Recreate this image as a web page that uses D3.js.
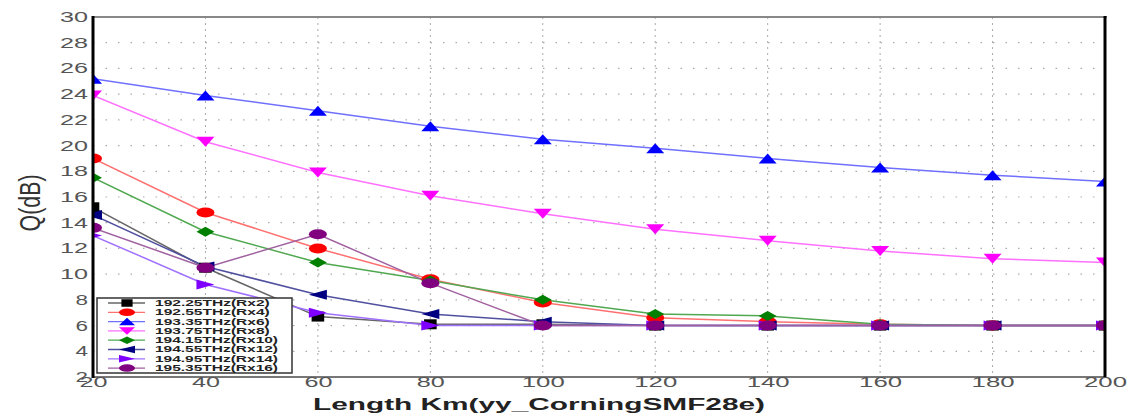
<!DOCTYPE html>
<html>
<head>
<meta charset="utf-8">
<script src="https://cdn.jsdelivr.net/npm/d3@7"></script>
<style>
  body { margin: 0; background: #fff; }
  text { font-family: "Liberation Sans", Arial, sans-serif; }
</style>
</head>
<body>
<div id="chart"></div>
<script>
// lengths in km
var lengths = [20, 40, 60, 80, 100, 120, 140, 160, 180, 200];

var names = ['192.25THz(Rx2)', '192.55THz(Rx4)', '193.35THz(Rx6)', '193.75THz(Rx8)',
             '194.15THz(Rx10)', '194.55THz(Rx12)', '194.95THz(Rx14)', '195.35THz(Rx16)'];

// Q values (dB), one array per channel
var rx2  = [15.2, 10.5, 6.7, 6.1, 6.1, 6.0, 6.0, 6.0, 6.0, 6.0];
var rx4  = [19.0, 14.8, 12.0, 9.6, 7.8, 6.6, 6.3, 6.1, 6.0, 6.0];
var rx6  = [25.2, 23.9, 22.7, 21.5, 20.5, 19.8, 19.0, 18.3, 17.7, 17.2];
var rx8  = [23.9, 20.3, 17.9, 16.1, 14.7, 13.5, 12.6, 11.8, 11.2, 10.9];
var rx10 = [17.5, 13.3, 10.9, 9.5, 8.0, 6.9, 6.75, 6.1, 6.0, 6.0];
var rx12 = [14.6, 10.6, 8.4, 6.9, 6.3, 6.0, 6.0, 6.0, 6.0, 6.0];
var rx14 = [13.0, 9.2, 7.0, 6.0, 6.0, 6.0, 6.0, 6.0, 6.0, 6.0];
var rx16 = [13.6, 10.5, 13.1, 9.3, 6.0, 6.0, 6.0, 6.0, 6.0, 6.0];

var yTicks = [2, 4, 6, 8, 10, 12, 14, 16, 18, 20, 22, 24, 26, 28, 30];
var xTicks = [20, 40, 60, 80, 100, 120, 140, 160, 180, 200];

var allSeries = [rx2, rx4, rx6, rx8, rx10, rx12, rx14, rx16];
var markColors = ['#000000', '#ff0000', '#0000ff', '#ff00ff', '#008000', '#000080', '#8000ff', '#800080'];
var lineColors = ['#666666', '#ff7070', '#7070ff', '#ff70ff', '#50a850', '#5050a0', '#a070ff', '#a060a0'];
var shapes = ['square', 'circle', 'up', 'down', 'diamond', 'left', 'right', 'circle'];

var W = 1135, H = 417;
var margin = { top: 17, left: 93, bottom: 40, right: 30 },
    width = 1105 - margin.left,
    height = 377 - margin.top;

var svg = d3.select('#chart').append('svg')
    .attr('width', W)
    .attr('height', H)
    .append('g')
    .attr('transform', 'translate(' + margin.left + ',' + margin.top + ')');

var x = d3.scaleLinear().domain([20, 200]).range([0, width]);
var y = d3.scaleLinear().domain([2, 30]).range([height, 0]);

function markerPath(shape, w, h) {
    var a = w / 2, b = h / 2;
    if (shape === 'square') return 'M' + (-a * 0.7) + ',' + (-b) + 'h' + (a * 1.4) + 'v' + h + 'h' + (-a * 1.4) + 'Z';
    if (shape === 'circle') return 'M' + (-a) + ',0A' + a + ',' + b + ' 0 1,0 ' + a + ',0A' + a + ',' + b + ' 0 1,0 ' + (-a) + ',0Z';
    if (shape === 'up') return 'M0,' + (-b) + 'L' + a + ',' + b + 'L' + (-a) + ',' + b + 'Z';
    if (shape === 'down') return 'M0,' + b + 'L' + a + ',' + (-b) + 'L' + (-a) + ',' + (-b) + 'Z';
    if (shape === 'diamond') return 'M0,' + (-b) + 'L' + a + ',0L0,' + b + 'L' + (-a) + ',0Z';
    if (shape === 'left') return 'M' + (-a) + ',0L' + a + ',' + (-b) + 'L' + a + ',' + b + 'Z';
    return 'M' + a + ',0L' + (-a) + ',' + (-b) + 'L' + (-a) + ',' + b + 'Z';
}

svg.append('clipPath').attr('id', 'plotclip')
    .append('rect').attr('x', 0).attr('y', -10).attr('width', width).attr('height', height + 10);

// grid
svg.selectAll('.hgrid')
    .data(yTicks.slice(1, -1))
    .enter().append('line')
    .attr('class', 'hgrid')
    .attr('x1', 0).attr('x2', width)
    .attr('y1', d => y(d)).attr('y2', d => y(d))
    .attr('stroke', '#aaa')
    .attr('stroke-width', 1.2)
    .attr('stroke-dasharray', '1.5,11');

svg.selectAll('.vgrid')
    .data(xTicks.slice(1, -1))
    .enter().append('line')
    .attr('class', 'vgrid')
    .attr('y1', 0).attr('y2', height)
    .attr('x1', d => x(d)).attr('x2', d => x(d))
    .attr('stroke', '#aaa')
    .attr('stroke-width', 1)
    .attr('stroke-dasharray', '2,4');

// frame
svg.append('line').attr('x1', 0).attr('x2', width + 2).attr('y1', 0).attr('y2', 0)
    .attr('stroke', '#888').attr('stroke-width', 2);
svg.append('line').attr('x1', 0).attr('x2', width).attr('y1', height).attr('y2', height)
    .attr('stroke', '#777').attr('stroke-width', 2);

// lines + markers
var line = d3.line().x((d, i) => x(lengths[i])).y(d => y(d));
var plot = svg.append('g').attr('clip-path', 'url(#plotclip)');

allSeries.forEach(function (s, k) {
    plot.append('path')
        .datum(s)
        .attr('fill', 'none')
        .attr('stroke', lineColors[k])
        .attr('stroke-width', 1.5)
        .attr('d', line);
});
allSeries.forEach(function (s, k) {
    plot.selectAll('.m' + k)
        .data(s)
        .enter().append('path')
        .attr('class', 'm' + k)
        .attr('transform', (d, i) => 'translate(' + x(lengths[i]) + ',' + y(d) + ')')
        .attr('d', markerPath(shapes[k], 18, 10))
        .attr('fill', markColors[k]);
});

svg.append('line').attr('x1', 0).attr('x2', 0).attr('y1', -1).attr('y2', height + 1)
    .attr('stroke', '#000').attr('stroke-width', 3);
svg.append('line').attr('x1', width).attr('x2', width).attr('y1', -1).attr('y2', height + 1)
    .attr('stroke', '#000').attr('stroke-width', 3);

// axes (labels only)
var yAxis = d3.axisLeft(y).tickValues(yTicks).tickSize(0).tickPadding(5);
var gy = svg.append('g').call(yAxis);
gy.select('.domain').remove();
gy.selectAll('text')
    .attr('fill', '#555')
    .attr('font-size', 14)
    .attr('textLength', d => String(d).length * 15.5 - 3)
    .attr('lengthAdjust', 'spacingAndGlyphs');

var xAxis = d3.axisBottom(x).tickValues(xTicks).tickSize(0).tickPadding(0);
var gx = svg.append('g').attr('transform', 'translate(0,' + height + ')').call(xAxis);
gx.select('.domain').remove();
gx.selectAll('text')
    .attr('fill', '#555')
    .attr('font-size', 14)
    .attr('textLength', d => String(d).length * 15 - 2)
    .attr('lengthAdjust', 'spacingAndGlyphs');

// titles
svg.append('text')
    .attr('x', 539 - margin.left)
    .attr('y', 410 - margin.top)
    .attr('text-anchor', 'middle')
    .attr('font-size', 16)
    .attr('font-weight', 'bold')
    .attr('fill', '#222')
    .attr('textLength', 452)
    .attr('lengthAdjust', 'spacingAndGlyphs')
    .text('Length Km(yy_CorningSMF28e)');

svg.append('text')
    .attr('transform', 'translate(' + (40 - margin.left) + ',' + (203 - margin.top) + ') scale(1.9,1) rotate(-90)')
    .attr('text-anchor', 'middle')
    .attr('font-size', 16)
    .attr('fill', '#333')
    .attr('textLength', 57)
    .attr('lengthAdjust', 'spacingAndGlyphs')
    .text('Q(dB)');

// legend
var lg = svg.append('g').attr('transform', 'translate(' + (97 - margin.left) + ',' + (298 - margin.top) + ')');
lg.append('rect')
    .attr('width', 195).attr('height', 75)
    .attr('fill', '#fff')
    .attr('stroke', '#333')
    .attr('stroke-width', 1.5);

var rows = lg.selectAll('.row')
    .data(names)
    .enter().append('g')
    .attr('class', 'row')
    .attr('transform', (d, i) => 'translate(0,' + (5 + i * 9.3) + ')');

rows.append('line')
    .attr('x1', 11).attr('x2', 48)
    .attr('stroke', (d, i) => lineColors[i])
    .attr('stroke-width', 1.3);
rows.append('path')
    .attr('transform', 'translate(30,0)')
    .attr('d', (d, i) => markerPath(shapes[i], 16, 7.5))
    .attr('fill', (d, i) => markColors[i]);
rows.append('text')
    .attr('x', 58)
    .attr('dy', '0.35em')
    .attr('font-size', 8.5)
    .attr('font-weight', 'bold')
    .attr('fill', '#222')
    .attr('textLength', d => d.length * 8.2)
    .attr('lengthAdjust', 'spacingAndGlyphs')
    .text(d => d);
</script>
</body>
</html>
